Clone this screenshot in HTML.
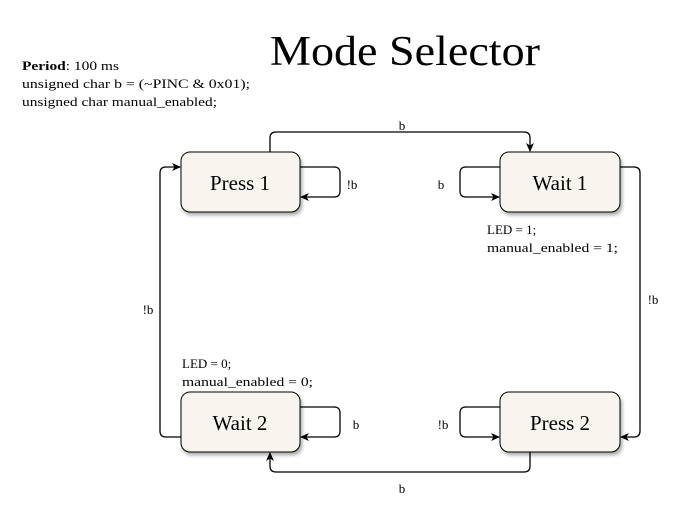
<!DOCTYPE html>
<html><head><style>
body{margin:0;background:#fff;}
svg{display:block;font-family:"Liberation Serif",serif;}
</style></head><body>
<svg width="697" height="516" viewBox="0 0 697 516" xmlns="http://www.w3.org/2000/svg">
<defs>
<marker id="a" markerWidth="10" markerHeight="10" refX="8" refY="5" orient="auto" markerUnits="userSpaceOnUse">
<path d="M0,1 L9,5 L0,9 L2.5,5 Z" fill="#000"/></marker>
<filter id="s" x="-10%" y="-10%" width="130%" height="140%"><feDropShadow dx="2" dy="3" stdDeviation="1.5" flood-color="#000" flood-opacity="0.3"/></filter>
</defs>
<text x="270" y="65" font-size="42" textLength="270" lengthAdjust="spacingAndGlyphs">Mode Selector</text>
<text x="22" y="70" font-size="13" textLength="97" lengthAdjust="spacingAndGlyphs"><tspan font-weight="bold">Period</tspan>: 100 ms</text>
<text x="22" y="88" font-size="13" textLength="228" lengthAdjust="spacingAndGlyphs">unsigned char b = (~PINC &amp; 0x01);</text>
<text x="22" y="106" font-size="13" textLength="195" lengthAdjust="spacingAndGlyphs">unsigned char manual_enabled;</text>
<g fill="none" stroke="#000" stroke-width="1.3">
<path d="M270,152 V138 Q270,132 276,132 H524 Q530,132 530,138 V151" marker-end="url(#a)"/>
<path d="M300,167 H334 Q340,167 340,173 V191 Q340,197 334,197 H301" marker-end="url(#a)"/>
<path d="M500,167 H466 Q460,167 460,173 V191 Q460,197 466,197 H499" marker-end="url(#a)"/>
<path d="M620,167 H634 Q640,167 640,173 V431 Q640,437 634,437 H621" marker-end="url(#a)"/>
<path d="M530,452 V466 Q530,472 524,472 H276 Q270,472 270,466 V453" marker-end="url(#a)"/>
<path d="M181,437 H166 Q160,437 160,431 V173 Q160,167 166,167 H180" marker-end="url(#a)"/>
<path d="M300,407 H334 Q340,407 340,413 V431 Q340,437 334,437 H301" marker-end="url(#a)"/>
<path d="M500,407 H466 Q460,407 460,413 V431 Q460,437 466,437 H499" marker-end="url(#a)"/>
</g>
<g fill="#f7f5ee" stroke="#000" stroke-width="1" filter="url(#s)">
<rect x="181" y="152" width="119" height="60" rx="9"/>
<rect x="500" y="152" width="120" height="60" rx="9"/>
<rect x="181" y="392" width="119" height="60" rx="9"/>
<rect x="500" y="392" width="120" height="60" rx="9"/>
</g>
<g font-size="21" text-anchor="middle">
<text x="240" y="190">Press 1</text>
<text x="560" y="190">Wait 1</text>
<text x="240" y="430">Wait 2</text>
<text x="560" y="430">Press 2</text>
</g>
<g font-size="13" text-anchor="middle">
<text x="402" y="130">b</text>
<text x="352" y="189">!b</text>
<text x="441" y="189">b</text>
<text x="653" y="304">!b</text>
<text x="148" y="314">!b</text>
<text x="356" y="429">b</text>
<text x="443" y="429">!b</text>
<text x="402" y="493">b</text>
</g>
<g font-size="13">
<text x="487" y="234">LED = 1;</text>
<text x="487" y="252" textLength="131" lengthAdjust="spacingAndGlyphs">manual_enabled = 1;</text>
<text x="182" y="368">LED = 0;</text>
<text x="182" y="386" textLength="131" lengthAdjust="spacingAndGlyphs">manual_enabled = 0;</text>
</g>
</svg>
</body></html>
